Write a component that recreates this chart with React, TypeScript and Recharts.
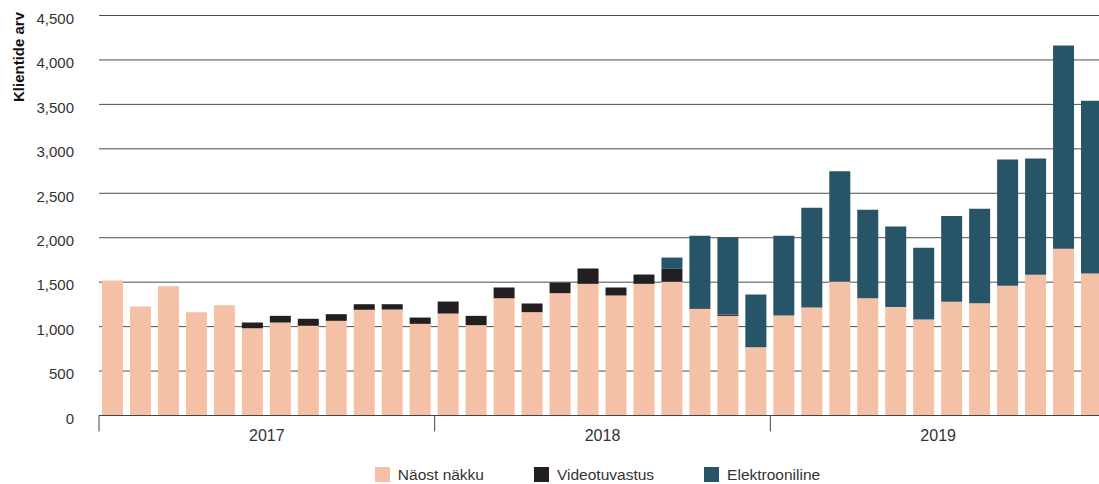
import React from 'react';
import { BarChart, Bar, XAxis, YAxis, CartesianGrid, Legend } from 'recharts';

const months = [
  '01.2017', '02.2017', '03.2017', '04.2017', '05.2017', '06.2017', '07.2017', '08.2017', '09.2017', '10.2017', '11.2017', '12.2017',
  '01.2018', '02.2018', '03.2018', '04.2018', '05.2018', '06.2018', '07.2018', '08.2018', '09.2018', '10.2018', '11.2018', '12.2018',
  '01.2019', '02.2019', '03.2019', '04.2019', '05.2019', '06.2019', '07.2019', '08.2019', '09.2019', '10.2019', '11.2019', '12.2019',
];

const naostNakku = [
  1520, 1225, 1455, 1162, 1241, 982, 1046, 1009, 1065, 1189, 1192, 1031,
  1147, 1016, 1320, 1163, 1376, 1481, 1350, 1481, 1504, 1200, 1121, 769,
  1125, 1215, 1504, 1320, 1222, 1080, 1279, 1264, 1459, 1583, 1875, 1597,
];

const videotuvastus = [
  0, 0, 0, 0, 0, 64, 75, 79, 75, 63, 60, 71,
  135, 105, 120, 97, 120, 173, 90, 105, 146, 8, 15, 0,
  0, 0, 0, 0, 0, 0, 0, 0, 0, 0, 0, 0,
];

const elektrooniline = [
  0, 0, 0, 0, 0, 0, 0, 0, 0, 0, 0, 0,
  0, 0, 0, 0, 0, 0, 0, 0, 127, 813, 870, 592,
  896, 1121, 1245, 994, 904, 806, 964, 1061, 1421, 1308, 2287, 1943,
];

const yTicks = [0, 500, 1000, 1500, 2000, 2500, 3000, 3500, 4000, 4500];
const yearLabels = ['2017', '2018', '2019'];
const seriesKeys = ['naost', 'video', 'elek'];
const seriesNames = ['Näost näkku', 'Videotuvastus', 'Elektrooniline'];
const seriesColors = ['#F5C1A6', '#231F20', '#285468'];
const yAxisTitle = 'Klientide arv';

const data = months.map((m, i) => ({
  month: m,
  naost: naostNakku[i],
  video: videotuvastus[i],
  elek: elektrooniline[i],
}));

const FONT = '"Liberation Sans", Arial, Helvetica, sans-serif';

function YearTick(props: any) {
  const { x, y, payload, index } = props;
  const i = typeof index === 'number' ? index : payload.index;
  const off = payload.offset || 0;
  const bx = x - off;
  if (i % 12 === 0) {
    return <line x1={bx} x2={bx} y1={y} y2={y + 16} stroke="#444" strokeWidth={1} />;
  }
  if (i % 12 === 6) {
    return (
      <text x={bx} y={y + 25} textAnchor="middle" fontSize={16} fill="#333" fontFamily={FONT}>
        {yearLabels[Math.floor(i / 12)]}
      </text>
    );
  }
  return <g />;
}

function LegendContent() {
  return (
    <div
      style={{
        display: 'flex',
        justifyContent: 'center',
        alignItems: 'center',
        gap: 50,
        fontFamily: FONT,
        fontSize: 15.5,
        color: '#333',
        height: 17,
      }}
    >
      {seriesNames.map((n, i) => (
        <div key={n} style={{ display: 'flex', alignItems: 'center' }}>
          <span
            style={{ width: 15, height: 15, background: seriesColors[i], marginRight: 8, display: 'inline-block' }}
          />
          <span>{n}</span>
        </div>
      ))}
    </div>
  );
}

export default function App() {
  return (
    <div
      style={{
        position: 'absolute',
        left: 0,
        top: 0,
        width: 1099,
        height: 484,
        overflow: 'hidden',
        background: '#fff',
      }}
    >
      <BarChart
        width={1106}
        height={484}
        data={data}
        margin={{ top: 15.5, right: 0, left: 0, bottom: 16.5 }}
        barSize={21}
      >
        <CartesianGrid vertical={false} stroke="#4d4d4d" strokeWidth={1} />
        <XAxis
          dataKey="month"
          interval={0}
          tickSize={0}
          tickMargin={0}
          tickLine={false}
          axisLine={{ stroke: '#444', strokeWidth: 1 }}
          tick={<YearTick />}
          height={35}
        />
        <YAxis
          width={99}
          domain={[0, 4500]}
          ticks={yTicks}
          interval={0}
          axisLine={false}
          tickLine={false}
          tickSize={0}
          tickMargin={25}
          tickFormatter={(v: number) => v.toLocaleString('en-US')}
          tick={{ fontSize: 15, fill: '#333', fontFamily: FONT, dy: 3 }}
          label={{
            content: () => (
              <text
                x={24}
                y={57}
                transform="rotate(-90 24 57)"
                textAnchor="middle"
                fontSize={15}
                fontWeight="bold"
                fill="#111"
                fontFamily={FONT}
              >
                {yAxisTitle}
              </text>
            ),
          }}
        />
        <Legend
          content={<LegendContent />}
          wrapperStyle={{ position: 'absolute', left: 99, top: 466, width: 997, height: 17 }}
        />
        {seriesKeys.map((k, i) => (
          <Bar
            key={k}
            dataKey={k}
            name={seriesNames[i]}
            stackId="a"
            fill={seriesColors[i]}
            isAnimationActive={false}
          />
        ))}
      </BarChart>
    </div>
  );
}
